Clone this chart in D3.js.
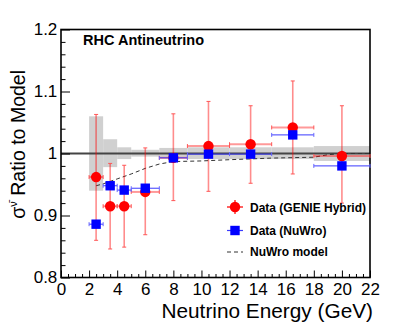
<!DOCTYPE html>
<html>
<head>
<meta charset="utf-8">
<script src="https://cdn.jsdelivr.net/npm/d3@7"></script>
<style>
  body { margin: 0; background: #fff; }
  svg { display: block; font-family: "Liberation Sans", Arial, Helvetica, sans-serif; }
</style>
</head>
<body>
<div id="viz"></div>
<script>
// energy bins (GeV)
const binLo = [2, 3, 4, 5, 7, 9, 12, 15, 18];
const binHi = [3, 4, 5, 7, 9, 12, 15, 18, 22];
const binCenter = [2.5, 3.5, 4.5, 6, 8, 10.5, 13.5, 16.5, 20];

// data / GENIE hybrid ratio
const genieRatio = [0.962, 0.915, 0.915, 0.938, 0.993, 1.012, 1.015, 1.042, 0.996];
const genieErrUp = [1.063, 0.984, 0.981, 1.009, 1.064, 1.084, 1.077, 1.117, 1.077];
const genieErrLo = [0.860, 0.846, 0.849, 0.869, 0.924, 0.939, 0.952, 0.967, 0.920];

// data / NuWro ratio
const nuwroRatio = [0.886, 0.948, 0.941, 0.944, 0.993, 0.999, 0.999, 1.030, 0.980];
const nuwroErr = [0.004, 0.004, 0.004, 0.004, 0.004, 0.004, 0.004, 0.004, 0.004];

// model uncertainty band
const bandLo = [0.940, 0.978, 0.991, 0.995, 0.992, 0.991, 0.991, 0.991, 0.988];
const bandHi = [1.060, 1.023, 1.010, 1.006, 1.009, 1.010, 1.010, 1.010, 1.012];

// NuWro model / GENIE hybrid curve
const modelE = [2.5, 3.0, 4.0, 5.0, 6.0, 7.0, 8.0, 10, 12, 15, 18, 19, 20, 22];
const modelR = [0.948, 0.951, 0.959, 0.967, 0.976, 0.983, 0.987, 0.988, 0.990, 0.9926, 0.994, 0.998, 1.0, 1.0];

const xTicks = [0, 2, 4, 6, 8, 10, 12, 14, 16, 18, 20, 22];
const yTicks = [0.8, 0.9, 1.0, 1.1, 1.2];

const W = 407, H = 328;
const x = d3.scaleLinear().domain([0, 22]).range([61, 370]);
const y = d3.scaleLinear().domain([0.8, 1.2]).range([277.5, 29.5]);

const svg = d3.select("#viz").append("svg")
  .attr("width", W)
  .attr("height", H);

// band
const bins = binLo.map((lo, i) => ({lo: lo, hi: binHi[i], c: binCenter[i], bl: bandLo[i], bh: bandHi[i]}));
svg.append("g").selectAll("rect")
  .data(bins)
  .join("rect")
    .attr("x", d => x(d.lo))
    .attr("width", d => x(d.hi) - x(d.lo))
    .attr("y", d => y(d.bh))
    .attr("height", d => y(d.bl) - y(d.bh))
    .attr("fill", "#d0d0d0");

// line at 1
svg.append("line")
  .attr("x1", x(0)).attr("x2", x(22))
  .attr("y1", y(1)).attr("y2", y(1))
  .attr("stroke", "#444")
  .attr("stroke-width", 2);

// model curve
const modelPts = modelE.map((e, i) => [e, modelR[i]]);
svg.append("path")
  .datum(modelPts)
  .attr("fill", "none")
  .attr("stroke", "#333")
  .attr("stroke-width", 1)
  .attr("stroke-dasharray", "4,3")
  .attr("d", d3.line().x(d => x(d[0])).y(d => y(d[1])));

// axes
const axG = svg.append("g").attr("font-family", "\"Liberation Sans\", Arial, sans-serif");

const xAxis = d3.axisBottom(x).tickValues(xTicks).tickSizeInner(-7).tickSizeOuter(0).tickPadding(5);
const xMinor = d3.axisBottom(x).tickValues(d3.range(0, 22.01, 0.5).filter(v => v % 2 != 0)).tickSizeInner(-3.5).tickSizeOuter(0).tickFormat("");
const gx = axG.append("g").attr("transform", `translate(0,${y(0.8)})`).call(xAxis);
axG.append("g").attr("transform", `translate(0,${y(0.8)})`).call(xMinor);
gx.selectAll("text").attr("font-size", 17).attr("fill", "#000");

const yAxis = d3.axisLeft(y).tickValues(yTicks).tickSizeInner(-9).tickSizeOuter(0).tickPadding(3.7)
  .tickFormat(d => d3.format("~g")(d));
const yMinorVals = [];
for (let v = 0.82; v < 1.2; v += 0.02) {
  const r = Math.round(v * 100) / 100;
  if (Math.abs(r * 10 - Math.round(r * 10)) > 1e-6) yMinorVals.push(r);
}
const yMinor = d3.axisLeft(y).tickValues(yMinorVals).tickSizeInner(-4.5).tickSizeOuter(0).tickFormat("");
const gy = axG.append("g").attr("transform", `translate(${x(0)},0)`).call(yAxis);
axG.append("g").attr("transform", `translate(${x(0)},0)`).call(yMinor);
gy.selectAll("text").attr("font-size", 17).attr("fill", "#000");

axG.selectAll(".domain").remove();
axG.selectAll(".tick line").attr("stroke", "#000").attr("stroke-width", 1);

// frame
svg.append("rect")
  .attr("x", x(0)).attr("y", y(1.2))
  .attr("width", x(22) - x(0)).attr("height", y(0.8) - y(1.2))
  .attr("fill", "none")
  .attr("stroke", "#000")
  .attr("stroke-width", 1.6);

// GENIE hybrid points
const genie = binCenter.map((c, i) => ({c: c, lo: binLo[i], hi: binHi[i], v: genieRatio[i], up: genieErrUp[i], dn: genieErrLo[i]}));
const gErr = svg.append("g");
gErr.selectAll(".h").data(genie).join("line")
  .attr("x1", d => x(d.lo)).attr("x2", d => x(d.hi))
  .attr("y1", d => y(d.v)).attr("y2", d => y(d.v))
  .attr("stroke", "rgba(255,0,0,0.4)").attr("stroke-width", 2);
gErr.selectAll(".v").data(genie).join("line")
  .attr("x1", d => x(d.c)).attr("x2", d => x(d.c))
  .attr("y1", d => y(d.up)).attr("y2", d => y(d.dn))
  .attr("stroke", "rgba(255,0,0,0.45)").attr("stroke-width", 1.6);
// end caps
genie.forEach(d => {
  [[x(d.lo), y(d.v), 0], [x(d.hi), y(d.v), 0], [x(d.c), y(d.up), 1], [x(d.c), y(d.dn), 1]].forEach(p => {
    gErr.append("line")
      .attr("x1", p[2] ? p[0] - 2 : p[0]).attr("x2", p[2] ? p[0] + 2 : p[0])
      .attr("y1", p[2] ? p[1] : p[1] - 2).attr("y2", p[2] ? p[1] : p[1] + 2)
      .attr("stroke", "#f55").attr("stroke-width", 1);
  });
});
svg.append("g").selectAll("circle").data(genie).join("circle")
  .attr("cx", d => x(d.c)).attr("cy", d => y(d.v))
  .attr("r", 5.2)
  .attr("fill", "#ff0000");

// NuWro points
const nuwro = binCenter.map((c, i) => ({c: c, lo: binLo[i], hi: binHi[i], v: nuwroRatio[i], e: nuwroErr[i]}));
const bErr = svg.append("g");
bErr.selectAll(".h").data(nuwro).join("line")
  .attr("x1", d => x(d.lo)).attr("x2", d => x(d.hi))
  .attr("y1", d => y(d.v)).attr("y2", d => y(d.v))
  .attr("stroke", "#3a3aff").attr("stroke-width", 1);
nuwro.forEach(d => {
  [x(d.lo), x(d.hi)].forEach(px => {
    bErr.append("line")
      .attr("x1", px).attr("x2", px)
      .attr("y1", y(d.v) - 2).attr("y2", y(d.v) + 2)
      .attr("stroke", "#66f").attr("stroke-width", 1);
  });
});
svg.append("g").selectAll("rect").data(nuwro).join("rect")
  .attr("x", d => x(d.c) - 4.7).attr("y", d => y(d.v) - 4.7)
  .attr("width", 9.4).attr("height", 9.4)
  .attr("fill", "#0000ff");

// title
svg.append("text")
  .attr("x", 83).attr("y", 45)
  .attr("font-size", 14.5)
  .attr("font-weight", "bold")
  .text("RHC Antineutrino");

// legend
const leg = svg.append("g").attr("font-size", 12).attr("font-weight", "bold");
leg.append("line").attr("x1", 227).attr("x2", 243).attr("y1", 207).attr("y2", 207)
  .attr("stroke", "#ff3030").attr("stroke-width", 1.5);
leg.append("line").attr("x1", 235).attr("x2", 235).attr("y1", 200).attr("y2", 214)
  .attr("stroke", "#ff3030").attr("stroke-width", 1.5);
leg.append("circle").attr("cx", 235).attr("cy", 207).attr("r", 5.2).attr("fill", "#ff0000");
leg.append("text").attr("x", 250).attr("y", 211.5).text("Data (GENIE Hybrid)");

leg.append("line").attr("x1", 227).attr("x2", 243).attr("y1", 230.5).attr("y2", 230.5)
  .attr("stroke", "#3a3aff").attr("stroke-width", 1.2);
leg.append("rect").attr("x", 235 - 4.7).attr("y", 230.5 - 4.7).attr("width", 9.4).attr("height", 9.4).attr("fill", "#0000ff");
leg.append("text").attr("x", 250).attr("y", 235).text("Data (NuWro)");

leg.append("line").attr("x1", 227).attr("x2", 243).attr("y1", 252).attr("y2", 252)
  .attr("stroke", "#333").attr("stroke-width", 1).attr("stroke-dasharray", "4,3");
leg.append("text").attr("x", 250).attr("y", 256).text("NuWro model");

// axis titles
svg.append("text")
  .attr("x", 373).attr("y", 317.5)
  .attr("text-anchor", "end")
  .attr("font-size", 20.8)
  .text("Neutrino Energy (GeV)");

const yt = svg.append("text")
  .attr("transform", "translate(25,70) rotate(-90)")
  .attr("text-anchor", "end")
  .attr("font-size", 19.5);
yt.append("tspan").text("σ");
yt.append("tspan").attr("font-size", 11).attr("dy", -8).text("ν\u0304");
yt.append("tspan").attr("dy", 8).text(" Ratio to Model");
</script>
</body>
</html>
